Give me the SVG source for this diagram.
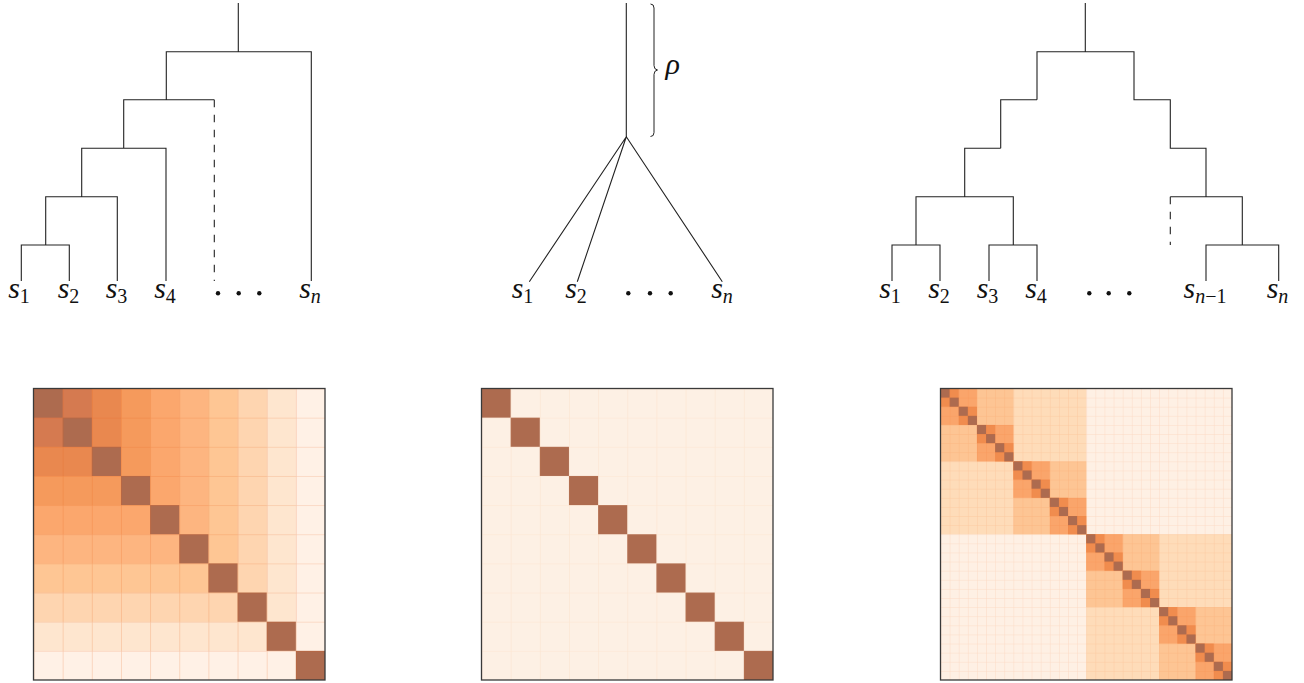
<svg xmlns="http://www.w3.org/2000/svg" xmlns:xlink="http://www.w3.org/1999/xlink" width="1304" height="683" viewBox="0 0 1304 683">
<style>
.edge{fill:none;stroke:#222;stroke-width:1.1}
.dash{stroke-dasharray:7.5 7.5}
.lbl{font-family:'Liberation Serif','DejaVu Serif','Times New Roman',serif;font-style:italic;font-size:30px;fill:#111}
.sub{font-size:20px;font-style:normal}
.subi{font-size:20px;font-style:italic}
.dot{fill:#111}
.diag{fill:#ad6b4f}
.frame{fill:none;stroke:#3a3a3a;stroke-width:1.3}
</style>
<defs>
<pattern id="grid10a" patternUnits="userSpaceOnUse" x="33.5" y="388.5" width="29.15" height="29.15">
<path d="M0,0H29.15M0,0V29.15" fill="none" stroke="#e6550d" stroke-opacity="0.3" stroke-width="1.2"/>
</pattern>
<pattern id="grid10b" patternUnits="userSpaceOnUse" x="481.5" y="388.5" width="29.15" height="29.15">
<path d="M0,0H29.15M0,0V29.15" fill="none" stroke="#f4a060" stroke-opacity="0.15" stroke-width="1.2"/>
</pattern>
<pattern id="grid32" patternUnits="userSpaceOnUse" x="940.5" y="388.5" width="9.109375" height="9.109375">
<path d="M0,0H9.109375M0,0V9.109375" fill="none" stroke="#e6550d" stroke-opacity="0.15" stroke-width="1"/>
</pattern>
<g id="b2"><rect width="18.21875" height="18.21875" fill="#f08c4e"/><rect class="diag" width="9.109375" height="9.109375"/><rect class="diag" x="9.109375" y="9.109375" width="9.109375" height="9.109375"/></g>
<g id="b4"><rect width="36.4375" height="36.4375" fill="#faa56b"/><use xlink:href="#b2" href="#b2"/><use xlink:href="#b2" href="#b2" x="18.21875" y="18.21875"/></g>
<g id="b8"><rect width="72.875" height="72.875" fill="#fdc594"/><use xlink:href="#b4" href="#b4"/><use xlink:href="#b4" href="#b4" x="36.4375" y="36.4375"/></g>
<g id="b16"><rect width="145.75" height="145.75" fill="#fedcb9"/><use xlink:href="#b8" href="#b8"/><use xlink:href="#b8" href="#b8" x="72.875" y="72.875"/></g>
<g id="b32"><rect width="291.5" height="291.5" fill="#fef0e4"/><use xlink:href="#b16" href="#b16"/><use xlink:href="#b16" href="#b16" x="145.75" y="145.75"/></g>
</defs>
<rect width="1304" height="683" fill="#fff"/>

<g id="connectors">
<path class="edge" d="M238.3,3V51.7M166.3,99.7V51.7H311.3V281M123.7,148.3V99.7H214.3M81.7,196.7V148.3H166V281M45.7,245V196.7H117.3V281M21.3,281V245H69.3V281"/>
<path class="edge dash" d="M214.3,99.7V281"/>
<path class="edge" d="M626.3,3V136.7M626.3,136.7L529.3,281.7M626.3,136.7L577.3,281.7M626.3,136.7L722.3,281.7"/>
<path class="edge" d="M1085.3,3V51.7M1037,99.7V51.7H1134V99.7H1170.3V148.3H1206V196.7M1000.7,148.3V99.7H1037M964.7,196.7V148.3H1000.7M916,245V196.7H1013.3V245M892,281V245H940V281M989,281V245H1037V281M1170.3,196.7H1242.3V245M1206,281V245H1278.7V281"/>
<path class="edge dash" d="M1170.3,196.7V245"/>
</g>

<g id="brace-rho">
<path fill="none" stroke="#222" stroke-width="1" d="M650.5,4Q654,4 654,8L654,65.5Q654,69.5 657.5,70Q654,70.5 654,74.5L654,132.5Q654,136.5 650.5,136.5"/>
<text class="lbl" x="665.5" y="74">ρ</text>
</g>

<g id="tree1-leaves">
<g id="t1-s1"><text class="lbl" x="19" y="297.5" text-anchor="middle">s<tspan class="sub" dy="5">1</tspan></text></g>
<g id="t1-s2"><text class="lbl" x="68.5" y="297.5" text-anchor="middle">s<tspan class="sub" dy="5">2</tspan></text></g>
<g id="t1-s3"><text class="lbl" x="116.5" y="297.5" text-anchor="middle">s<tspan class="sub" dy="5">3</tspan></text></g>
<g id="t1-s4"><text class="lbl" x="165" y="297.5" text-anchor="middle">s<tspan class="sub" dy="5">4</tspan></text></g>
<g id="t1-dots"><circle class="dot" cx="218" cy="293.3" r="2.2"/><circle class="dot" cx="238.7" cy="293.3" r="2.2"/><circle class="dot" cx="259.3" cy="293.3" r="2.2"/></g>
<g id="t1-sn"><text class="lbl" x="310" y="297.5" text-anchor="middle">s<tspan class="subi" dy="5">n</tspan></text></g>
</g>

<g id="tree2-leaves">
<g id="t2-s1"><text class="lbl" x="522.5" y="297.5" text-anchor="middle">s<tspan class="sub" dy="5">1</tspan></text></g>
<g id="t2-s2"><text class="lbl" x="576" y="297.5" text-anchor="middle">s<tspan class="sub" dy="5">2</tspan></text></g>
<g id="t2-dots"><circle class="dot" cx="628.3" cy="293.3" r="2.2"/><circle class="dot" cx="650" cy="293.3" r="2.2"/><circle class="dot" cx="670.7" cy="293.3" r="2.2"/></g>
<g id="t2-sn"><text class="lbl" x="722" y="297.5" text-anchor="middle">s<tspan class="subi" dy="5">n</tspan></text></g>
</g>

<g id="tree3-leaves">
<g id="t3-s1"><text class="lbl" x="890" y="297.5" text-anchor="middle">s<tspan class="sub" dy="5">1</tspan></text></g>
<g id="t3-s2"><text class="lbl" x="939" y="297.5" text-anchor="middle">s<tspan class="sub" dy="5">2</tspan></text></g>
<g id="t3-s3"><text class="lbl" x="987.5" y="297.5" text-anchor="middle">s<tspan class="sub" dy="5">3</tspan></text></g>
<g id="t3-s4"><text class="lbl" x="1036" y="297.5" text-anchor="middle">s<tspan class="sub" dy="5">4</tspan></text></g>
<g id="t3-dots"><circle class="dot" cx="1089.3" cy="293.3" r="2.2"/><circle class="dot" cx="1108.7" cy="293.3" r="2.2"/><circle class="dot" cx="1129.3" cy="293.3" r="2.2"/></g>
<g id="t3-sn1"><text class="lbl" x="1205" y="297.5" text-anchor="middle">s<tspan class="subi" dy="5">n</tspan><tspan class="sub">−1</tspan></text></g>
<g id="t3-sn"><text class="lbl" x="1277.5" y="297.5" text-anchor="middle">s<tspan class="subi" dy="5">n</tspan></text></g>
</g>

<g id="matrix1">
<rect x="33.5" y="388.5" width="291.5" height="291.5" fill="#fff1e6"/>
<rect x="33.5" y="388.5" width="262.35" height="262.35" fill="#fee6cf"/>
<rect x="33.5" y="388.5" width="233.2" height="233.2" fill="#fed5b0"/>
<rect x="33.5" y="388.5" width="204.05" height="204.05" fill="#fec694"/>
<rect x="33.5" y="388.5" width="174.9" height="174.9" fill="#fdb580"/>
<rect x="33.5" y="388.5" width="145.75" height="145.75" fill="#fba76d"/>
<rect x="33.5" y="388.5" width="116.6" height="116.6" fill="#f59a5c"/>
<rect x="33.5" y="388.5" width="87.45" height="87.45" fill="#e9884f"/>
<rect x="33.5" y="388.5" width="58.3" height="58.3" fill="#d57a50"/>
<rect class="diag" x="33.5" y="388.5" width="29.15" height="29.15"/>
<rect class="diag" x="62.65" y="417.65" width="29.15" height="29.15"/>
<rect class="diag" x="91.8" y="446.8" width="29.15" height="29.15"/>
<rect class="diag" x="120.95" y="475.95" width="29.15" height="29.15"/>
<rect class="diag" x="150.1" y="505.1" width="29.15" height="29.15"/>
<rect class="diag" x="179.25" y="534.25" width="29.15" height="29.15"/>
<rect class="diag" x="208.4" y="563.4" width="29.15" height="29.15"/>
<rect class="diag" x="237.55" y="592.55" width="29.15" height="29.15"/>
<rect class="diag" x="266.7" y="621.7" width="29.15" height="29.15"/>
<rect class="diag" x="295.85" y="650.85" width="29.15" height="29.15"/>
<rect x="33.5" y="388.5" width="291.5" height="291.5" fill="url(#grid10a)"/>
<rect class="frame" x="33.5" y="388.5" width="291.5" height="291.5"/>
</g>

<g id="matrix2">
<rect x="481.5" y="388.5" width="291.5" height="291.5" fill="#fdf0e4"/>
<rect class="diag" x="481.5" y="388.5" width="29.15" height="29.15"/>
<rect class="diag" x="510.65" y="417.65" width="29.15" height="29.15"/>
<rect class="diag" x="539.8" y="446.8" width="29.15" height="29.15"/>
<rect class="diag" x="568.95" y="475.95" width="29.15" height="29.15"/>
<rect class="diag" x="598.1" y="505.1" width="29.15" height="29.15"/>
<rect class="diag" x="627.25" y="534.25" width="29.15" height="29.15"/>
<rect class="diag" x="656.4" y="563.4" width="29.15" height="29.15"/>
<rect class="diag" x="685.55" y="592.55" width="29.15" height="29.15"/>
<rect class="diag" x="714.7" y="621.7" width="29.15" height="29.15"/>
<rect class="diag" x="743.85" y="650.85" width="29.15" height="29.15"/>
<rect x="481.5" y="388.5" width="291.5" height="291.5" fill="url(#grid10b)"/>
<rect class="frame" x="481.5" y="388.5" width="291.5" height="291.5"/>
</g>

<g id="matrix3">
<use xlink:href="#b32" href="#b32" x="940.5" y="388.5"/>
<rect x="940.5" y="388.5" width="291.5" height="291.5" fill="url(#grid32)"/>
<rect class="frame" x="940.5" y="388.5" width="291.5" height="291.5"/>
</g>
</svg>
